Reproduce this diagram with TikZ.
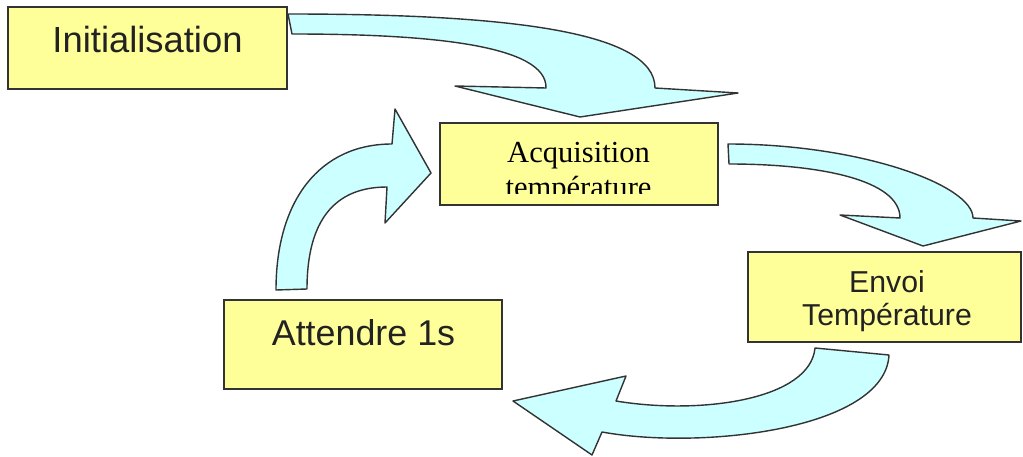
\documentclass[tikz,border=0pt]{standalone}
\usepackage{fontspec}
\setmainfont{Liberation Sans}
\newfontfamily\timesfont{Liberation Serif}
\definecolor{boxfill}{HTML}{FFFF99}
\definecolor{arrowfill}{HTML}{CCFFFF}
\definecolor{edgecol}{HTML}{333333}
\definecolor{txt}{HTML}{222222}
\begin{document}
\begin{tikzpicture}[x=0.02cm,y=-0.02cm,
  stepbox/.style={draw=edgecol, line width=0.9pt, fill=boxfill, inner sep=0pt, outer sep=0pt},
  blockarrow/.style={draw=edgecol, line width=0.8pt, fill=arrowfill, line join=round},
  lbl/.style={anchor=base, inner sep=0pt, text=txt}]
\useasboundingbox (0,0) rectangle (1023,456);

% block arrows
\path[blockarrow] (288,14) .. controls (500,14) and (655,30) .. (655,88)
  -- (738,93) -- (580,117) -- (455,86) -- (546,88)
  .. controls (547,45) and (430,34) .. (292,34) -- cycle;
\path[blockarrow] (728,144) .. controls (860,144) and (973,185) .. (973,218)
  -- (1021,221) -- (923,246) -- (840,215) -- (900,218)
  .. controls (900,180) and (820,164) .. (729,164) -- cycle;
\path[blockarrow] (815,348) -- (889,355) .. controls (885,430) and (700,450) .. (602,432)
  -- (592,455) -- (513,401) -- (626,376) -- (616,401)
  .. controls (700,415) and (810,400) .. (815,348) -- cycle;
\path[blockarrow] (276,290) .. controls (276,200) and (320,144) .. (392,144)
  -- (395,109) -- (431,173) -- (385,223) -- (387,187)
  .. controls (335,187) and (307,220) .. (307,289) -- cycle;

% boxes
\node[stepbox, minimum width=5.58cm, minimum height=1.64cm] (init) at (147.5,48) {};
\node[stepbox, minimum width=5.56cm, minimum height=1.64cm] (acq) at (579,164) {};
\node[stepbox, minimum width=5.46cm, minimum height=1.80cm] (envoi) at (884.5,297) {};
\node[stepbox, minimum width=5.56cm, minimum height=1.78cm] (wait) at (363,344.5) {};

% texts
\node[lbl, font=\fontsize{20.7}{24}\selectfont] (tinit) at (147.5,52) {Initialisation};
\node[lbl, text=black, font=\timesfont\fontsize{17.4}{20}\selectfont] (tacq1) at (578.5,162) {Acquisition};
\begin{scope}
  \clip (440,124) rectangle (718,193);
  \node[lbl, text=black, font=\timesfont\fontsize{17.4}{20}\selectfont] (tacq2) at (578.5,197) {température};
\end{scope}
\node[lbl, font=\fontsize{17.2}{20}\selectfont] (tenv1) at (887,292) {Envoi};
\node[lbl, font=\fontsize{17.2}{20}\selectfont] (tenv2) at (887,325) {Température};
\node[lbl, font=\fontsize{20.4}{24}\selectfont] (twait) at (363.5,345) {Attendre 1s};
\end{tikzpicture}
\end{document}
